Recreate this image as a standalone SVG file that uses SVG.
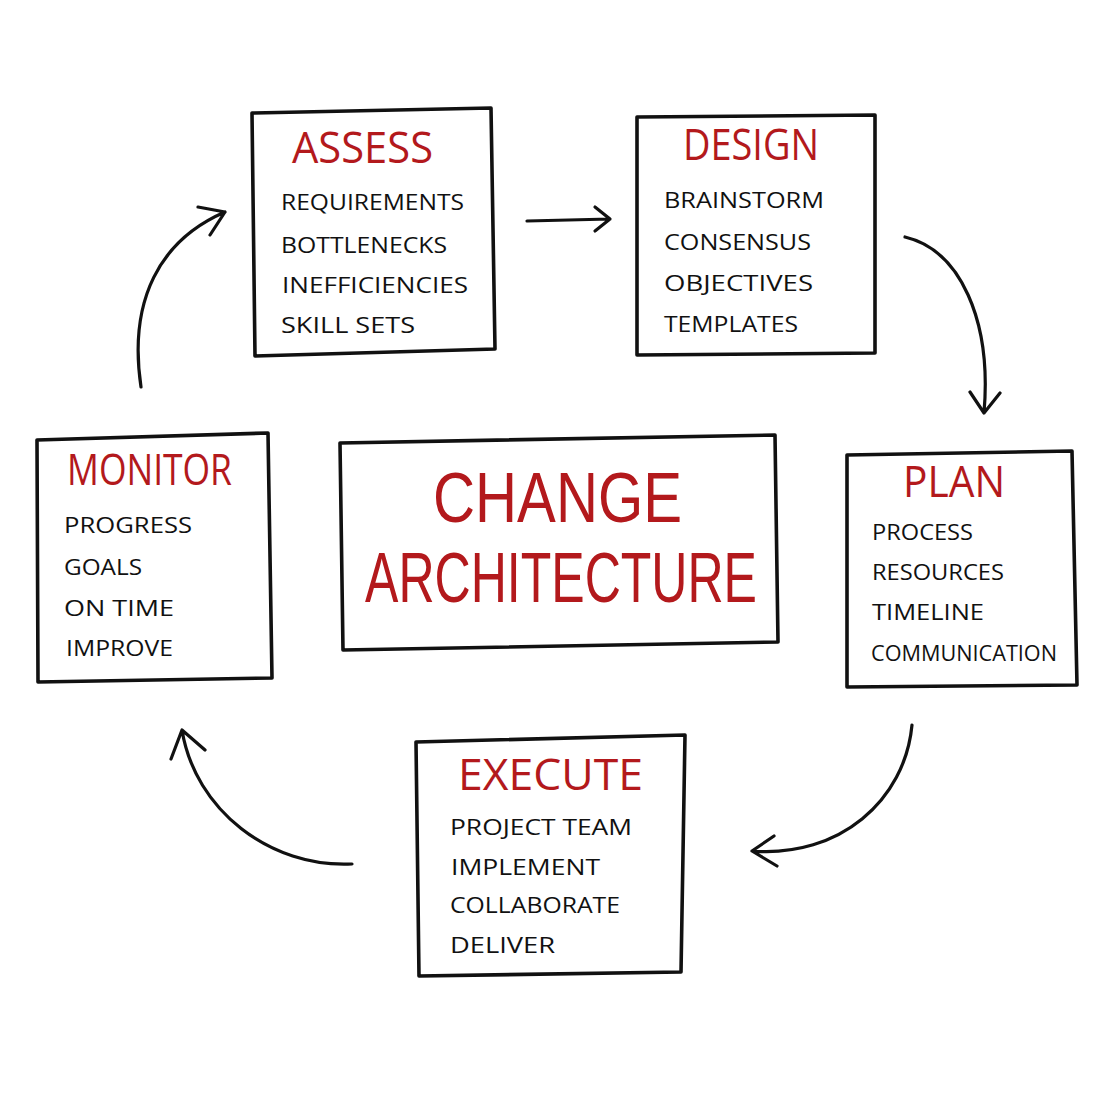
<svg xmlns="http://www.w3.org/2000/svg" width="1110" height="1110" viewBox="0 0 1110 1110">
<style>
.box{fill:#fff;stroke:#111;stroke-width:3.6;stroke-linejoin:round;stroke-linecap:round}
.t{font-family:"Open Sans","DejaVu Sans",sans-serif;fill:#b3191c;font-size:44px}
.big{font-family:"Liberation Sans","Open Sans",sans-serif;fill:#b3191c;font-size:70px}
.i{font-family:"Open Sans","DejaVu Sans",sans-serif;fill:#111;font-size:22px}
.c{fill:none;stroke:#111;stroke-width:3.2;stroke-linecap:round;stroke-linejoin:round}
</style>
<rect width="1110" height="1110" fill="#fff"/>
<g id="connectors">
<path class="c" d="M527,221 L610,219 M595,207 L610,219 L595,231"/>
<path class="c" d="M905,237 C960,250 992,320 984,413 M970,392 L984,413 L1000,393"/>
<path class="c" d="M912,725 C905,800 840,858 752,851 M774,836 L752,851 L777,866"/>
<path class="c" d="M352,864 C270,868 195,810 182,730 M171,759 L182,730 L205,750"/>
<path class="c" d="M141,387 C128,300 160,240 225,212 M198,207 L225,212 L210,235"/>
</g>
<g id="assess">
<path class="box" d="M252,113 L491,108 L495,349 L255,356 Z"/>
<text class="t" x="292" y="163" textLength="141" lengthAdjust="spacingAndGlyphs">ASSESS</text>
<text class="i" x="281" y="210" textLength="183" lengthAdjust="spacingAndGlyphs">REQUIREMENTS</text>
<text class="i" x="281" y="253" textLength="166" lengthAdjust="spacingAndGlyphs">BOTTLENECKS</text>
<text class="i" x="282" y="293" textLength="186" lengthAdjust="spacingAndGlyphs">INEFFICIENCIES</text>
<text class="i" x="281" y="333" textLength="134" lengthAdjust="spacingAndGlyphs">SKILL SETS</text>
</g>
<g id="design">
<path class="box" d="M637,117 L875,115 L875,353 L637,355 Z"/>
<text class="t" x="683" y="160" textLength="136" lengthAdjust="spacingAndGlyphs">DESIGN</text>
<text class="i" x="664" y="208" textLength="160" lengthAdjust="spacingAndGlyphs">BRAINSTORM</text>
<text class="i" x="664" y="250" textLength="147" lengthAdjust="spacingAndGlyphs">CONSENSUS</text>
<text class="i" x="664" y="291" textLength="149" lengthAdjust="spacingAndGlyphs">OBJECTIVES</text>
<text class="i" x="664" y="332" textLength="134" lengthAdjust="spacingAndGlyphs">TEMPLATES</text>
</g>
<g id="monitor">
<path class="box" d="M37,440 L268,433 L272,678 L38,682 Z"/>
<text class="t" x="67" y="485" textLength="165" lengthAdjust="spacingAndGlyphs">MONITOR</text>
<text class="i" x="64" y="533" textLength="128" lengthAdjust="spacingAndGlyphs">PROGRESS</text>
<text class="i" x="64" y="575" textLength="78" lengthAdjust="spacingAndGlyphs">GOALS</text>
<text class="i" x="64" y="616" textLength="110" lengthAdjust="spacingAndGlyphs">ON TIME</text>
<text class="i" x="66" y="656" textLength="107" lengthAdjust="spacingAndGlyphs">IMPROVE</text>
</g>
<g id="center">
<path class="box" d="M340,443 L775,435 L778,642 L343,650 Z"/>
<text class="big" x="433" y="522" textLength="249" lengthAdjust="spacingAndGlyphs">CHANGE</text>
<text class="big" x="365" y="602" textLength="392" lengthAdjust="spacingAndGlyphs">ARCHITECTURE</text>
</g>
<g id="plan">
<path class="box" d="M847,455 L1072,451 L1077,685 L847,687 Z"/>
<text class="t" x="903" y="497" textLength="102" lengthAdjust="spacingAndGlyphs">PLAN</text>
<text class="i" x="872" y="540" textLength="101" lengthAdjust="spacingAndGlyphs">PROCESS</text>
<text class="i" x="872" y="580" textLength="132" lengthAdjust="spacingAndGlyphs">RESOURCES</text>
<text class="i" x="872" y="620" textLength="112" lengthAdjust="spacingAndGlyphs">TIMELINE</text>
<text class="i" x="871" y="661" textLength="186" lengthAdjust="spacingAndGlyphs">COMMUNICATION</text>
</g>
<g id="execute">
<path class="box" d="M416,742 L685,735 L681,972 L419,976 Z"/>
<text class="t" x="458" y="790" textLength="185" lengthAdjust="spacingAndGlyphs">EXECUTE</text>
<text class="i" x="450" y="835" textLength="182" lengthAdjust="spacingAndGlyphs">PROJECT TEAM</text>
<text class="i" x="451" y="875" textLength="149" lengthAdjust="spacingAndGlyphs">IMPLEMENT</text>
<text class="i" x="450" y="913" textLength="170" lengthAdjust="spacingAndGlyphs">COLLABORATE</text>
<text class="i" x="450" y="953" textLength="105" lengthAdjust="spacingAndGlyphs">DELIVER</text>
</g>
</svg>
